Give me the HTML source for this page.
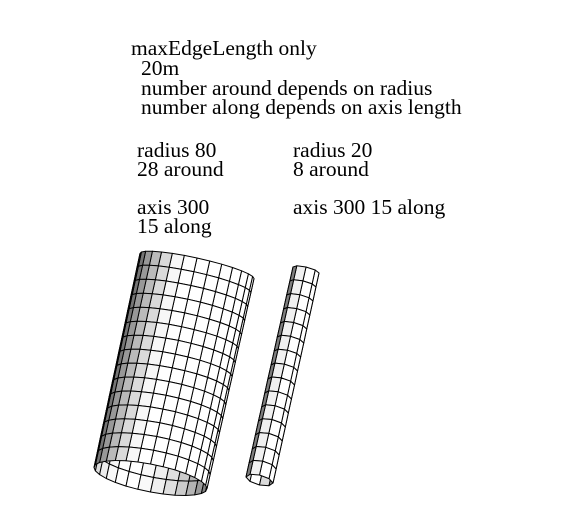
<!DOCTYPE html>
<html><head><meta charset="utf-8"><style>
html,body{margin:0;padding:0;background:#fff;}
svg{display:block;}
text{font-family:"Liberation Serif",serif;font-size:21.5px;fill:#000;}
</style></head><body>
<svg id="s" width="577" height="528" viewBox="0 0 577 528" xmlns="http://www.w3.org/2000/svg">
<g>
<text x="131" y="55">maxEdgeLength only</text>
<text x="141" y="75">20m</text>
<text x="141" y="95">number around depends on radius</text>
<text x="141" y="114">number along depends on axis length</text>
<text x="137" y="157">radius 80</text>
<text x="137" y="176">28 around</text>
<text x="137" y="214">axis 300</text>
<text x="137" y="233">15 along</text>
<text x="293" y="157">radius 20</text>
<text x="293" y="176">8 around</text>
<text x="293" y="214">axis 300 15 along</text>
</g>
<g id="cyls"></g>
</svg>
<script>
const cylNames = ["large-cylinder", "small-cylinder"];
const aroundCounts = [28, 8];
const alongCounts = [15, 15];
const geom = [
  {tc:[197,266], tu:[57,12.5], tv:[0,-8], bc:[150.5,478], bu:[56.5,10.5], bv:[0,-14]},
  {tc:[306,270], tu:[13,3], tv:[0,-3], bc:[259.5,480], bu:[13.5,3], bv:[0,-5]}
];
const NS="http://www.w3.org/2000/svg";
const root=document.getElementById('cyls');
function pt(g,t,th){
  const c=[g.tc[0]+(g.bc[0]-g.tc[0])*t, g.tc[1]+(g.bc[1]-g.tc[1])*t];
  const u=[g.tu[0]+(g.bu[0]-g.tu[0])*t, g.tu[1]+(g.bu[1]-g.tu[1])*t];
  const v=[g.tv[0]+(g.bv[0]-g.tv[0])*t, g.tv[1]+(g.bv[1]-g.tv[1])*t];
  return [c[0]+u[0]*Math.cos(th)+v[0]*Math.sin(th), c[1]+u[1]*Math.cos(th)+v[1]*Math.sin(th)];
}
function shade(phi,inner){
  let b=inner?0.55+0.45*Math.cos(phi+2.0):0.6+0.6*Math.cos(phi-1.0);
  b=Math.max(0.25,Math.min(1,b));
  const c=Math.round(b*255);
  return 'rgb('+c+','+c+','+c+')';
}
for(let k=0;k<cylNames.length;k++){
  const g=geom[k], n=aroundCounts[k], m=alongCounts[k];
  const grp=document.createElementNS(NS,'g');
  
  
  root.appendChild(grp);
  const quads=[];
  for(let i=0;i<n;i++){
    const a0=2*Math.PI*i/n, a1=2*Math.PI*(i+1)/n, am=(a0+a1)/2;
    const front=Math.sin(am)>0;
    for(let j=0;j<m;j++){
      const t0=j/m,t1=(j+1)/m;
      const p=[pt(g,t0,a0),pt(g,t0,a1),pt(g,t1,a1),pt(g,t1,a0)];
      quads.push({p:p,front:front,phi:am});
    }
  }
  quads.sort((a,b)=>(a.front?1:0)-(b.front?1:0));
  for(const q of quads){
    const poly=document.createElementNS(NS,'polygon');
    
    
    poly.setAttribute('points', q.p.map(x=>x[0].toFixed(1)+','+x[1].toFixed(1)).join(' '));
    poly.setAttribute('fill', shade(q.phi,!q.front));
    poly.setAttribute('stroke', '#000');
    poly.setAttribute('stroke-width', '1');
    poly.setAttribute('stroke-linejoin', 'round');
    grp.appendChild(poly);
  }
}
</script>
</body></html>
